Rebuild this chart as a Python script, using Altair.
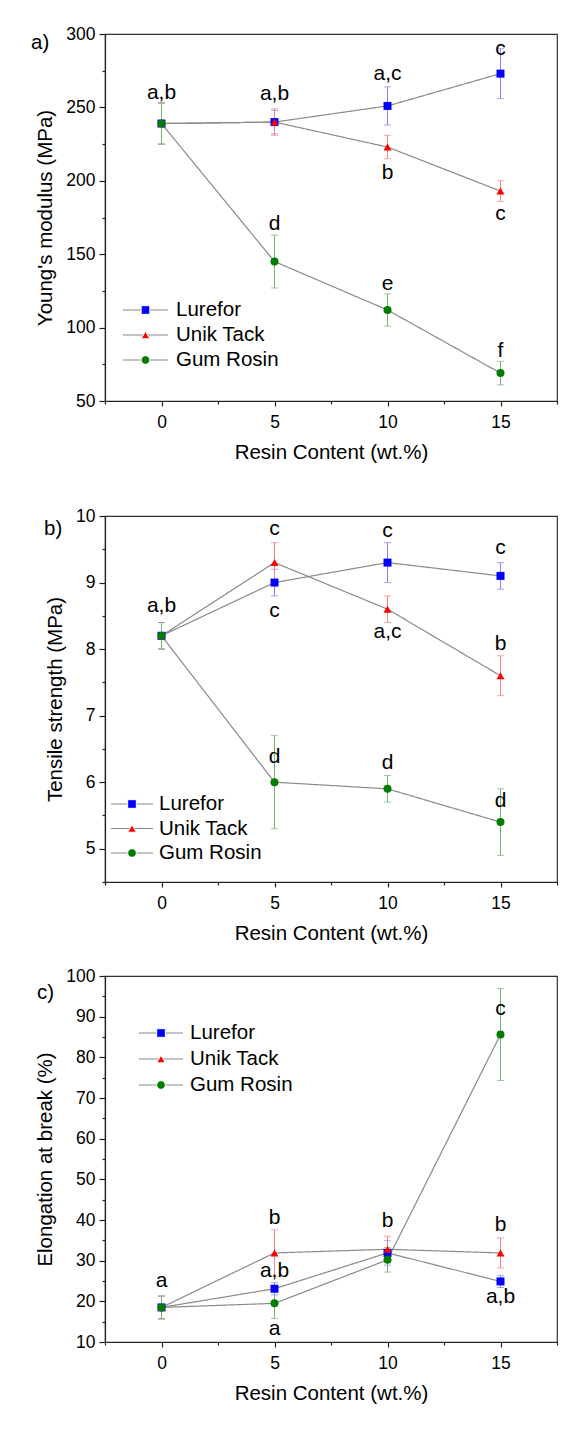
import math
import altair as alt
import pandas as pd

FONT = "Liberation Sans"

# ---------------- data ----------------
resin = [0, 5, 10, 15]
series_names = ["Lurefor", "Unik Tack", "Gum Rosin"]

# a) Young's modulus (MPa)
ym_lurefor = [239, 240, 251, 273]
ym_lurefor_err = [14, 8, 13, 17]
ym_unik = [239, 240, 223, 193]
ym_unik_err = [14, 9, 8, 7]
ym_gum = [239, 145, 112, 69]
ym_gum_err = [14, 18, 11, 8]
ym_lab_x = [0, 5, 10, 15, 10, 15, 5, 10, 15]
ym_lab_y = [260, 259, 273, 289.5, 205, 177.6, 170.8, 130, 84]
ym_lab_t = ["a,b", "a,b", "a,c", "c", "b", "c", "d", "e", "f"]

# b) Tensile strength (MPa)
ts_lurefor = [8.2, 9.0, 9.3, 9.1]
ts_lurefor_err = [0.2, 0.2, 0.3, 0.2]
ts_unik = [8.2, 9.3, 8.6, 7.6]
ts_unik_err = [0.2, 0.3, 0.2, 0.3]
ts_gum = [8.2, 6.0, 5.9, 5.4]
ts_gum_err = [0.2, 0.7, 0.2, 0.5]
ts_lab_x = [0, 5, 5, 10, 10, 15, 15, 5, 10, 15]
ts_lab_y = [8.65, 9.80, 8.57, 9.77, 8.26, 9.52, 8.07, 6.38, 6.29, 5.71]
ts_lab_t = ["a,b", "c", "c", "c", "a,c", "c", "b", "d", "d", "d"]

# c) Elongation at break (%)
eb_lurefor = [18.5, 23.1, 31.9, 24.9]
eb_lurefor_err = [2.8, 1.5, 3.0, 1.5]
eb_unik = [18.5, 31.9, 32.8, 31.9]
eb_unik_err = [2.8, 5.7, 3.2, 3.7]
eb_gum = [18.5, 19.5, 30.2, 85.6]
eb_gum_err = [2.8, 3.7, 3.0, 11.3]
eb_lab_x = [0, 5, 5, 5, 10, 15, 15, 15]
eb_lab_y = [24.9, 40.5, 27.5, 13.1, 39.7, 91.8, 38.8, 21.0]
eb_lab_t = ["a", "b", "a,b", "a", "b", "c", "b", "a,b"]

marker_colors = ["#0000ff", "#ff0000", "#007d00"]
errbar_colors = ["#8080ff", "#ff8080", "#74b474"]
marker_shapes = ["square", "triangle-up", "circle"]
line_gray = "#8a8a8a"

W = 452
TICK_FS = 17.5
TITLE_FS = 20.5
LEG_FS = 20.5
ANN_FS = 21

line_keys = ["line " + s for s in series_names]
err_keys = ["err " + s for s in series_names]


def long_df(vals, errs):
    rows = []
    for name, v_list, e_list in zip(series_names, vals, errs):
        for x, v, e in zip(resin, v_list, e_list):
            rows.append({"series": name, "line_key": "line " + name, "err_key": "err " + name,
                         "x": x, "y": v, "lo": v - e, "hi": v + e})
    return pd.DataFrame(rows)


def legends(start, length, label_x, first_row, spacing):
    stroke_w = 1.2
    size_stroke = max(math.ceil(length + stroke_w), 1)
    lx_stroke = start - (size_stroke / 2 - length / 2)
    center = lx_stroke + size_stroke / 2
    shape_sz = 75
    shape_sw = 1.0
    size_shape = max(math.ceil(math.sqrt(shape_sz) + shape_sw), LEG_FS)
    lx_shape = center - size_shape / 2
    ly = first_row - LEG_FS / 2
    common = dict(title=None, orient="none", legendY=ly, clipHeight=LEG_FS,
                  rowPadding=spacing - LEG_FS, labelFont=FONT,
                  labelColor="black", padding=0, direction="vertical")
    leg_line = alt.Legend(legendX=lx_stroke, symbolType="stroke", symbolSize=length * length,
                          symbolStrokeWidth=stroke_w, symbolStrokeColor=line_gray,
                          labelOpacity=0, labelFontSize=1, labelOffset=0, zindex=0, **common)
    leg_shape = alt.Legend(legendX=lx_shape, symbolSize=shape_sz, symbolStrokeColor="white",
                           symbolStrokeWidth=shape_sw, labelFontSize=LEG_FS,
                           labelOffset=label_x - (lx_shape + size_shape), zindex=1, **common)
    return leg_line, leg_shape


def panel(df, lab_x, lab_y, lab_t, ydom, yvals, ymajor, ytitle, letter, letter_pos,
          height, leg):
    xs = alt.Scale(domain=[-2.5, 17.5], nice=False, zero=False)
    ys = alt.Scale(domain=ydom, nice=False, zero=False)
    x_axis = alt.Axis(
        values=[-2.5, 0, 2.5, 5, 7.5, 10, 12.5, 15, 17.5],
        labelExpr="abs(datum.value % 5) < 0.001 ? format(datum.value, 'd') : ''",
        tickSize={"condition": {"test": "abs(datum.value % 5) > 0.001", "value": 3}, "value": 5},
        title="Resin Content (wt.%)", labelPadding=7, titlePadding=12,
        labelFlush=False, labelOverlap=False, grid=False)
    y_axis = alt.Axis(
        values=yvals,
        labelExpr=f"abs(datum.value % {ymajor}) < 0.001 ? format(datum.value, 'd') : ''",
        tickSize={"condition": {"test": f"abs(datum.value % {ymajor}) > 0.001", "value": 3},
                  "value": 6},
        title=ytitle, labelPadding=4, titlePadding=10,
        labelFlush=False, labelOverlap=False, grid=False)
    X = alt.X("x:Q", scale=xs, axis=x_axis)
    leg_line, leg_shape = leg

    base = alt.Chart(df)
    lines = base.mark_line(color=line_gray, strokeWidth=1.2).encode(
        x=X,
        y=alt.Y("y:Q", scale=ys, axis=y_axis),
        strokeDash=alt.StrokeDash("line_key:N",
                                  scale=alt.Scale(domain=line_keys,
                                                  range=[[1, 0], [1, 0], [1, 0]]),
                                  legend=leg_line),
    )
    err_scale = alt.Scale(domain=err_keys, range=errbar_colors)
    rules = base.mark_rule(strokeWidth=1).encode(
        x=X,
        y=alt.Y("lo:Q", scale=ys, axis=y_axis),
        y2=alt.Y2("hi:Q"),
        stroke=alt.Stroke("err_key:N", scale=err_scale, legend=None),
    )
    cap_lo = base.mark_tick(orient="horizontal", size=7, thickness=1).encode(
        x=X, y=alt.Y("lo:Q", scale=ys, axis=y_axis),
        fill=alt.Fill("err_key:N", scale=err_scale, legend=None))
    cap_hi = base.mark_tick(orient="horizontal", size=7, thickness=1).encode(
        x=X, y=alt.Y("hi:Q", scale=ys, axis=y_axis),
        fill=alt.Fill("err_key:N", scale=err_scale, legend=None))
    points = base.mark_point(filled=True, size=64, opacity=1).encode(
        x=X,
        y=alt.Y("y:Q", scale=ys, axis=y_axis),
        color=alt.Color("series:N", scale=alt.Scale(domain=series_names, range=marker_colors),
                        legend=leg_shape),
        shape=alt.Shape("series:N", scale=alt.Scale(domain=series_names, range=marker_shapes),
                        legend=leg_shape),
    )
    ann_df = pd.DataFrame({"x": lab_x, "y": lab_y, "t": lab_t})
    texts = alt.Chart(ann_df).mark_text(fontSize=ANN_FS, font=FONT, color="black",
                                        baseline="middle").encode(
        x=X, y=alt.Y("y:Q", scale=ys, axis=y_axis), text="t:N")
    let_df = pd.DataFrame({"t": [letter]})
    letter_txt = alt.Chart(let_df).mark_text(fontSize=TITLE_FS, font=FONT, color="black",
                                             align="left", baseline="middle").encode(
        text="t:N", x=alt.value(letter_pos[0]), y=alt.value(letter_pos[1]))
    return alt.layer(lines, rules, cap_lo, cap_hi, points, texts, letter_txt).properties(
        width=W, height=height)


RES = dict(color="independent", shape="independent", strokeDash="independent",
           stroke="independent", fill="independent")

pa = panel(long_df([ym_lurefor, ym_unik, ym_gum], [ym_lurefor_err, ym_unik_err, ym_gum_err]),
           ym_lab_x, ym_lab_y, ym_lab_t, [50, 300], list(range(50, 301, 25)), 50,
           "Young's modulus (MPa)", "a)", (-74, 9), 367,
           legends(18, 45, 71, 276, 24.5))
pb = panel(long_df([ts_lurefor, ts_unik, ts_gum], [ts_lurefor_err, ts_unik_err, ts_gum_err]),
           ts_lab_x, ts_lab_y, ts_lab_t, [4.5, 10], [4.5 + 0.5 * i for i in range(12)], 1,
           "Tensile strength (MPa)", "b)", (-61, 13), 366,
           legends(6, 42, 54, 288, 24))
pc = panel(long_df([eb_lurefor, eb_unik, eb_gum], [eb_lurefor_err, eb_unik_err, eb_gum_err]),
           eb_lab_x, eb_lab_y, eb_lab_t, [10, 100], list(range(10, 101, 5)), 10,
           "Elongation at break (%)", "c)", (-68, 17), 366,
           legends(34, 44, 85, 57, 25.5))

inner = alt.vconcat(pb, pc, spacing=21).resolve_scale(**RES)
chart = alt.vconcat(pa, inner, spacing=42).resolve_scale(**RES).properties(
    padding={"left": 30, "top": 24, "right": 5, "bottom": 5},
    background="white",
).configure_view(stroke="#333333", strokeWidth=1.2).configure_axis(
    labelFont=FONT, titleFont=FONT, labelFontSize=TICK_FS, titleFontSize=TITLE_FS,
    titleFontWeight="normal", labelColor="black", titleColor="black",
    domainColor="#222222", tickColor="#222222", domainWidth=1.2, tickWidth=1.2
)

chart.save("out.html", embed_options={"renderer": "svg", "actions": False})
